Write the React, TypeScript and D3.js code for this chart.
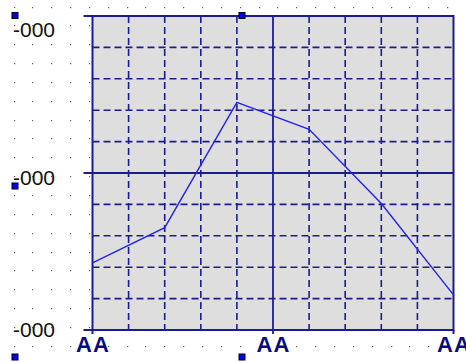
import React from "react";
import * as d3 from "d3";

const categories = ["AA", "", "", "", "", ""];
const xLabelIdx = [0, 2.5, 5];
const xLabels = ["AA", "AA", "AA"];
const values = [2.14, 3.26, 7.25, 6.39, 4.03, 1.12];
const yTickValues = [10, 5, 0];
const yTickLabels = ["-000", "-000", "-000"];
const yLabelShift = [14, 5, 0];

const W = 466, H = 362;
const plot = { left: 92.5, right: 453.5, top: 16, bottom: 330 };

export default function App() {
  const x = d3.scaleLinear().domain([0, categories.length - 1]).range([plot.left, plot.right]);
  const y = d3.scaleLinear().domain([0, 10]).range([plot.bottom, plot.top]);
  const gx = d3.scaleLinear().domain([0, 10]).range([plot.left, plot.right]);

  const dots: [number, number][] = [];
  for (let i = 0; 13.5 + i * 18.85 < W; i++)
    for (let j = 0; 6.5 + j * 18.85 < H; j++)
      dots.push([Math.round(13.5 + i * 18.85), Math.round(6.5 + j * 18.85)]);

  const line = d3.line<number>().x((_, i) => x(i)).y((d) => y(d));
  const grid = d3.range(1, 10).filter((v) => v !== 5);
  const navy = "#1c1c8e";

  const hx = [15, 242, 474];
  const hy = [15.5, 186, 357];
  const handles: [number, number][] = [];
  hx.forEach((a, i) => hy.forEach((b, j) => { if (!(i === 1 && j === 1)) handles.push([a, b]); }));

  return (
    <svg width={W} height={H} style={{ position: "absolute", left: 0, top: 0, background: "#fff" }}>
      {dots.map(([a, b], k) => (
        <rect key={k} x={a} y={b} width={1.2} height={1.2} fill="#666" />
      ))}
      <rect x={plot.left} y={plot.top} width={plot.right - plot.left} height={plot.bottom - plot.top} fill="#dedede" />
      {grid.map((v) => (
        <line key={"v" + v} x1={gx(v)} x2={gx(v)} y1={plot.top} y2={plot.bottom} stroke={navy} strokeWidth={1.6} strokeDasharray="7,4" />
      ))}
      {grid.map((v) => (
        <line key={"h" + v} y1={y(v)} y2={y(v)} x1={plot.left} x2={plot.right} stroke={navy} strokeWidth={1.6} strokeDasharray="7,4" />
      ))}
      <line x1={gx(5)} x2={gx(5)} y1={plot.top} y2={plot.bottom + 4} stroke={navy} strokeWidth={1.8} />
      <line x1={plot.left - 9} x2={plot.right} y1={y(5)} y2={y(5)} stroke={navy} strokeWidth={1.8} />
      <rect x={plot.left} y={plot.top} width={plot.right - plot.left} height={plot.bottom - plot.top} fill="none" stroke={navy} strokeWidth={2} />
      <line x1={plot.left - 9} x2={plot.left} y1={plot.top} y2={plot.top} stroke={navy} strokeWidth={2} />
      <line x1={plot.left - 9} x2={plot.left} y1={plot.bottom} y2={plot.bottom} stroke={navy} strokeWidth={2} />
      <line x1={plot.left} x2={plot.left} y1={plot.bottom} y2={plot.bottom + 4} stroke={navy} strokeWidth={2} />
      <line x1={plot.right} x2={plot.right} y1={plot.bottom} y2={plot.bottom + 4} stroke={navy} strokeWidth={2} />
      <path d={line(values) || ""} fill="none" stroke="#2222f2" strokeWidth={1.4} />
      {yTickValues.map((v, i) => (
        <text key={"yl" + i} x={13} y={y(v) + 7 + yLabelShift[i]} fontFamily="Liberation Sans, Arial, sans-serif" fontSize={21} fill="#111">
          {yTickLabels[i]}
        </text>
      ))}
      {xLabelIdx.map((v, i) => (
        <text key={"xl" + i} x={x(v) + 0.5} y={352} textAnchor="middle" fontFamily="Liberation Sans, Arial, sans-serif" fontWeight="bold" fontSize={22} letterSpacing={1} fill="#0a0a80">
          {xLabels[i]}
        </text>
      ))}
      {handles.map(([a, b], k) => (
        <rect key={"hd" + k} x={a - 3} y={b - 3} width={6} height={6} fill="#0000ff" stroke="#000" strokeWidth={1} />
      ))}
    </svg>
  );
}
